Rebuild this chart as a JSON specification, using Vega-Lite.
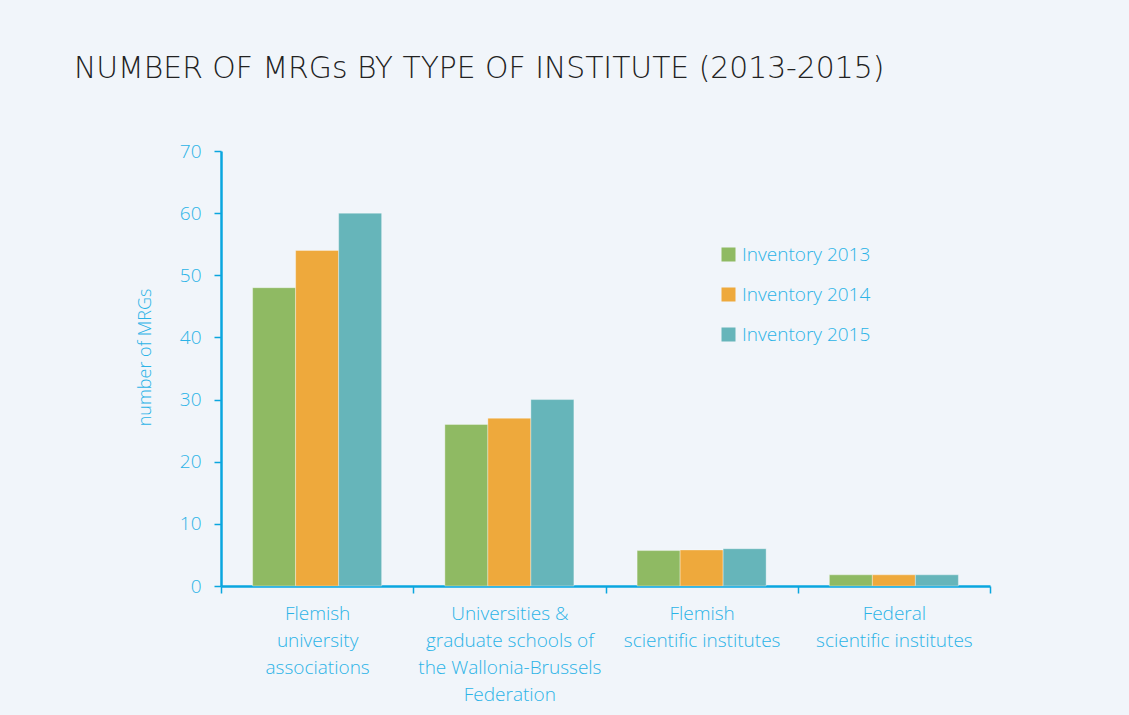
{
  "$schema": "https://vega.github.io/schema/vega-lite/v6.json",
  "width": 769,
  "height": 435,
  "autosize": "none",
  "padding": {"left": 221, "top": 151, "right": 139, "bottom": 129},
  "background": "#f1f5fa",
  "title": {
    "text": "NUMBER OF MRGs BY TYPE OF INSTITUTE (2013-2015)",
    "anchor": "start",
    "frame": "group",
    "dx": -147,
    "offset": 58,
    "font": "DejaVu Sans",
    "fontSize": 29.8,
    "fontWeight": 200,
    "color": "#222222"
  },
  "data": {
    "values": [
      {"institute": "Flemish|university|associations", "inventory": "Inventory 2013", "mrgs": 48},
      {"institute": "Flemish|university|associations", "inventory": "Inventory 2014", "mrgs": 54},
      {"institute": "Flemish|university|associations", "inventory": "Inventory 2015", "mrgs": 60},
      {"institute": "Universities &|graduate schools of|the Wallonia-Brussels|Federation", "inventory": "Inventory 2013", "mrgs": 26},
      {"institute": "Universities &|graduate schools of|the Wallonia-Brussels|Federation", "inventory": "Inventory 2014", "mrgs": 27},
      {"institute": "Universities &|graduate schools of|the Wallonia-Brussels|Federation", "inventory": "Inventory 2015", "mrgs": 30},
      {"institute": "Flemish|scientific institutes", "inventory": "Inventory 2013", "mrgs": 5.7},
      {"institute": "Flemish|scientific institutes", "inventory": "Inventory 2014", "mrgs": 5.8},
      {"institute": "Flemish|scientific institutes", "inventory": "Inventory 2015", "mrgs": 6},
      {"institute": "Federal|scientific institutes", "inventory": "Inventory 2013", "mrgs": 1.8},
      {"institute": "Federal|scientific institutes", "inventory": "Inventory 2014", "mrgs": 1.8},
      {"institute": "Federal|scientific institutes", "inventory": "Inventory 2015", "mrgs": 1.8}
    ]
  },
  "mark": {"type": "bar", "stroke": "#ffffff", "strokeOpacity": 0.35, "strokeWidth": 1},
  "encoding": {
    "x": {
      "field": "institute",
      "type": "nominal",
      "sort": null,
      "scale": {"paddingInner": 0, "paddingOuter": 0},
      "axis": {
        "title": null,
        "labelAngle": 0,
        "labelExpr": "split(datum.label, '|')",
        "labelFont": "Open Sans",
        "labelFontWeight": 300,
        "labelFontSize": 19,
        "labelLineHeight": 27,
        "labelColor": "#2bb3e7",
        "labelPadding": 11,
        "labelBaseline": "top",
        "labelLimit": 400,
        "tickBand": "extent",
        "tickSize": 7,
        "tickWidth": 1.5,
        "tickColor": "#0aa6df",
        "domainColor": "#0aa6df",
        "domainWidth": 2.5
      }
    },
    "xOffset": {"field": "inventory", "type": "nominal", "scale": {"paddingInner": 0, "paddingOuter": 0.735}},
    "y": {
      "field": "mrgs",
      "type": "quantitative",
      "scale": {"domain": [0, 70]},
      "axis": {
        "title": "number of MRGs",
        "titleFont": "Open Sans",
        "titleFontSize": 18,
        "titleFontWeight": 300,
        "titleColor": "#2bb3e7",
        "titleX": -76,
        "titleY": 206,
        "titleAlign": "center",
        "titleBaseline": "middle",
        "values": [0, 10, 20, 30, 40, 50, 60, 70],
        "grid": false,
        "labelFont": "Open Sans",
        "labelFontWeight": 300,
        "labelFontSize": 19,
        "labelColor": "#2bb3e7",
        "labelPadding": 13,
        "tickSize": 7,
        "tickWidth": 1.5,
        "tickColor": "#0aa6df",
        "domainColor": "#0aa6df",
        "domainWidth": 2.5
      }
    },
    "color": {
      "field": "inventory",
      "type": "nominal",
      "scale": {"domain": ["Inventory 2013", "Inventory 2014", "Inventory 2015"], "range": ["#8fba63", "#eea93c", "#66b5ba"]},
      "legend": {
        "title": null,
        "orient": "none",
        "legendX": 498,
        "legendY": 94,
        "direction": "vertical",
        "symbolType": "square",
        "symbolSize": 196,
        "symbolStrokeWidth": 0,
        "symbolOpacity": 1,
        "labelFont": "Open Sans",
        "labelFontWeight": 300,
        "labelFontSize": 19,
        "labelColor": "#2bb3e7",
        "labelOffset": 4,
        "rowPadding": 20
      }
    }
  },
  "config": {"view": {"stroke": null}}
}
